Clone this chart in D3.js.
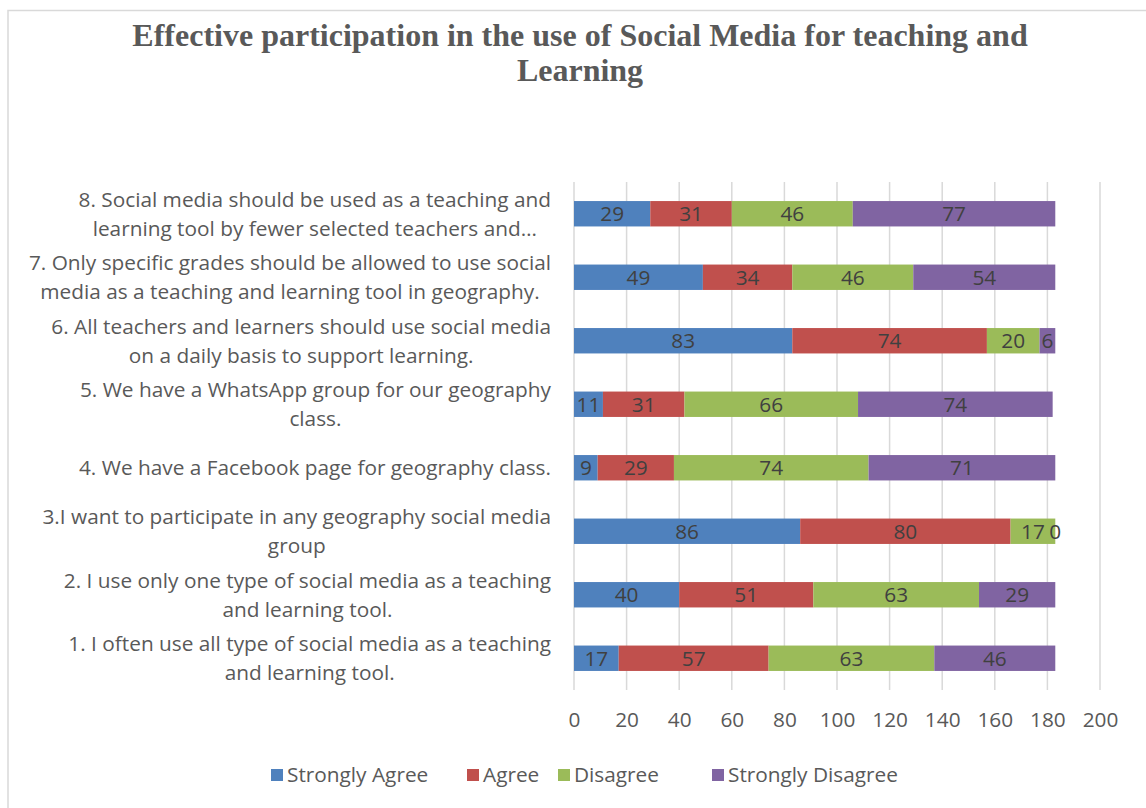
<!DOCTYPE html>
<html>
<head>
<meta charset="utf-8">
<script src="https://cdn.jsdelivr.net/npm/d3@7"></script>
<style>
  html, body { margin: 0; padding: 0; background: #fff; }
  svg { display: block; }
</style>
</head>
<body>
<svg id="chart" width="1146" height="808"></svg>
<script>
// Survey statements, bottom to top as drawn (1 at the bottom)
const categories = [
  "1. I often use all type of social media as a teaching|and learning tool.",
  "2. I use only one type of social media as a teaching|and learning tool.",
  "3.I want to participate in any geography social media|group",
  "4. We have a Facebook page for geography class.",
  "5. We have a WhatsApp group for our geography|class.",
  "6. All teachers and learners should use social media|on a daily basis to support learning.",
  "7. Only specific grades should be allowed to use social|media as a teaching and learning tool in geography.",
  "8. Social media should be used as a teaching and|learning tool by fewer selected teachers and…"
];
const seriesNames = ["Strongly Agree", "Agree", "Disagree", "Strongly Disagree"];
const stronglyAgree    = [17, 40, 86,  9, 11, 83, 49, 29];
const agree            = [57, 51, 80, 29, 31, 74, 34, 31];
const disagree         = [63, 63, 17, 74, 66, 20, 46, 46];
const stronglyDisagree = [46, 29,  0, 71, 74,  6, 54, 77];
const xTicks = [0, 20, 40, 60, 80, 100, 120, 140, 160, 180, 200];
const titleLines = ["Effective participation in the use of Social Media for teaching and", "Learning"];

const colors = ["#4F81BD", "#C0504D", "#9BBB59", "#8064A2"];
const seriesValues = [stronglyAgree, agree, disagree, stronglyDisagree];

const rows = categories.map((c, i) => {
  const r = { cat: c };
  seriesNames.forEach((s, k) => r[s] = seriesValues[k][i]);
  return r;
});

const svg = d3.select("#chart");
const labelFont = "'Open Sans', Lato, sans-serif";
const fs = 20.8;

// chart frame
svg.append("path")
  .attr("d", "M8,808 V10.5 H1146")
  .attr("fill", "none").attr("stroke", "#d9d9d9").attr("stroke-width", 1.5);

// title
svg.append("g").selectAll("text").data(titleLines).join("text")
  .attr("x", 580).attr("y", (d, i) => 46 + i * 35)
  .attr("text-anchor", "middle")
  .attr("font-family", "'Liberation Serif', 'Times New Roman', serif")
  .attr("font-weight", "bold").attr("font-size", 32)
  .attr("fill", "#595959")
  .text(d => d);

const plot = { left: 574, right: 1100, top: 182, bottom: 690 };

const x = d3.scaleLinear().domain([0, 200]).range([plot.left, plot.right]);
const y = d3.scaleBand()
  .domain(d3.range(categories.length).reverse())
  .range([plot.top, plot.bottom])
  .paddingInner(0.6).paddingOuter(0.3);

// vertical gridlines
svg.append("g").selectAll("line").data(xTicks).join("line")
  .attr("x1", d => x(d)).attr("x2", d => x(d))
  .attr("y1", plot.top).attr("y2", plot.bottom)
  .attr("stroke", "#d9d9d9").attr("stroke-width", 1.5);

// x axis tick labels
const xAxis = d3.axisBottom(x).tickValues(xTicks).tickSize(0).tickPadding(0);
const gx = svg.append("g").attr("transform", `translate(0,${plot.bottom + 22})`).call(xAxis);
gx.select(".domain").remove();
gx.selectAll("text")
  .attr("font-family", labelFont).attr("font-size", fs)
  .attr("fill", "#595959").attr("dy", "0.71em");

// stacked bars
const stack = d3.stack().keys(seriesNames);
const layers = stack(rows);

const gBars = svg.append("g");
layers.forEach((layer, k) => {
  gBars.append("g").selectAll("rect").data(layer).join("rect")
    .attr("x", d => x(d[0]))
    .attr("y", (d, i) => y(i))
    .attr("width", d => x(d[1]) - x(d[0]))
    .attr("height", y.bandwidth())
    .attr("fill", colors[k]);
});

// value labels centred in each segment
layers.forEach((layer, k) => {
  gBars.append("g").selectAll("text").data(layer).join("text")
    .attr("x", d => (x(d[0]) + x(d[1])) / 2)
    .attr("y", (d, i) => y(i) + y.bandwidth() / 2)
    .attr("dy", "0.36em")
    .attr("text-anchor", "middle")
    .attr("font-family", labelFont).attr("font-size", fs)
    .attr("fill", "#404040")
    .text(d => d[1] - d[0]);
});

// category labels: lines centred within their block, block right-aligned
const labelRight = 551;
const gCat = svg.append("g");
categories.forEach((c, i) => {
  const lines = c.split("|");
  const cy = y(i) + y.bandwidth() / 2;
  const lh = 29;
  const t = gCat.append("text")
    .attr("font-family", labelFont).attr("font-size", fs)
    .attr("fill", "#595959").attr("text-anchor", "middle");
  const spans = lines.map((l, j) => t.append("tspan")
    .attr("y", cy + (j - (lines.length - 1) / 2) * lh)
    .attr("dy", "0.36em")
    .text(l));
  const w = d3.max(spans, s => s.node().getComputedTextLength());
  spans.forEach(s => s.attr("x", labelRight - w / 2));
});

// legend
const legendItems = [
  { name: seriesNames[0], x: 271 },
  { name: seriesNames[1], x: 467 },
  { name: seriesNames[2], x: 558 },
  { name: seriesNames[3], x: 712 }
];
const gLeg = svg.append("g");
legendItems.forEach((it, k) => {
  gLeg.append("rect").attr("x", it.x).attr("y", 769).attr("width", 12).attr("height", 12)
    .attr("fill", colors[k]);
  gLeg.append("text").attr("x", it.x + 16).attr("y", 775).attr("dy", "0.36em")
    .attr("font-family", labelFont).attr("font-size", fs).attr("fill", "#595959")
    .text(it.name);
});
</script>
</body>
</html>
